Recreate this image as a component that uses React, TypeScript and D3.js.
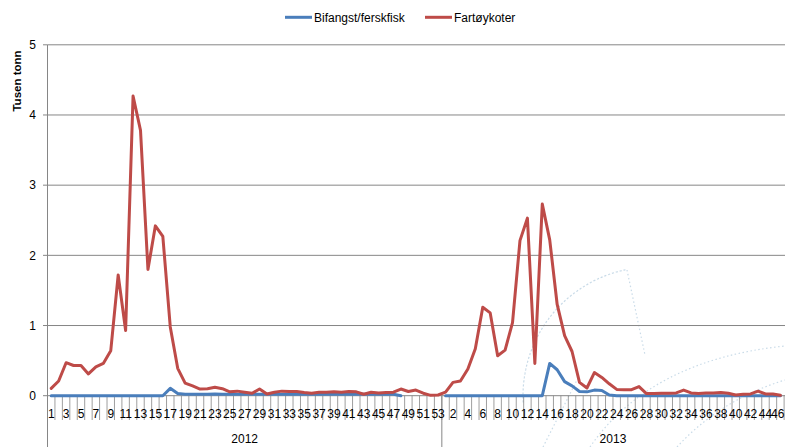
import React from 'react';
import * as d3 from 'd3';

// ---- data ----
const years = ['2012', '2013'];
const weeks2012 = d3.range(1, 54); // 53 weeks
const weeks2013 = d3.range(1, 47); // 46 weeks
const seriesNames = ['Bifangst/ferskfisk', 'Fartøykoter'];
const seriesColors = ['#4A7EBB', '#BE4B48'];
const yTicks = [0, 1, 2, 3, 4, 5];

const bifangst2012: (number | null)[] = [
  0, 0, 0, 0, 0, 0, 0, 0, 0, 0,
  0, 0, 0, 0, 0, 0, 0.105, 0.03, 0.02, 0.02,
  0.02, 0.02, 0.025, 0.02, 0.02, 0.02, 0.02, 0.02, 0.02, 0.02,
  0.02, 0.02, 0.02, 0.02, 0.02, 0.02, 0.02, 0.02, 0.02, 0.02,
  0.02, 0.02, 0.02, 0.02, 0.02, 0.02, 0.02, 0, null, null,
  null, null, null,
];
const bifangst2013: (number | null)[] = [
  0, 0, 0, 0, 0, 0, 0, 0, 0, 0,
  0, 0, 0, 0, 0.46, 0.37, 0.2, 0.14, 0.06, 0.055,
  0.08, 0.075, 0.01, 0, 0, 0, 0, 0, 0, 0,
  0, 0, 0, 0, 0, 0, 0, 0, 0, 0,
  0, 0, 0, 0, 0, 0,
];
const fartoy2012: (number | null)[] = [
  0.105, 0.21, 0.47, 0.43, 0.43, 0.31, 0.41, 0.46, 0.64, 1.72,
  0.93, 4.27, 3.78, 1.8, 2.42, 2.27, 0.98, 0.39, 0.18, 0.14,
  0.095, 0.1, 0.12, 0.1, 0.055, 0.065, 0.05, 0.035, 0.095, 0.025,
  0.05, 0.065, 0.06, 0.06, 0.045, 0.035, 0.05, 0.05, 0.055, 0.05,
  0.06, 0.055, 0.02, 0.05, 0.04, 0.045, 0.05, 0.095, 0.06, 0.08,
  0.035, 0.005, 0.01,
];
const fartoy2013: (number | null)[] = [
  0.05, 0.19, 0.21, 0.38, 0.67, 1.26, 1.18, 0.57, 0.65, 1.04,
  2.21, 2.53, 0.46, 2.73, 2.22, 1.3, 0.855, 0.63, 0.19, 0.11,
  0.33, 0.26, 0.17, 0.09, 0.085, 0.085, 0.13, 0.03, 0.03, 0.035,
  0.035, 0.04, 0.08, 0.04, 0.03, 0.04, 0.04, 0.045, 0.035, 0.01,
  0.02, 0.025, 0.065, 0.025, 0.025, 0.005,
];

// ---- layout ----
const W = 785;
const H = 447;
const plotLeft = 47.5;
const plotRight = 784.1;
const plotBottom = 395.7;
const plotTop = 44.8;
const FONT = "'Liberation Sans', Arial, sans-serif";
const GRID = '#868686';

export default function App() {
  const labels = [...weeks2012, ...weeks2013];
  const n = labels.length;
  const idx = d3.range(n);
  const x = d3.scaleBand<number>().domain(idx).range([plotLeft, plotRight]).padding(0);
  const bw = x.bandwidth();
  const cx = (i: number) => (x(i) as number) + bw / 2;
  const y = d3.scaleLinear().domain([0, 5]).range([plotBottom, plotTop]);

  const series = [
    [...bifangst2012, ...bifangst2013],
    [...fartoy2012, ...fartoy2013],
  ];
  const line = d3
    .line<number | null>()
    .defined((d) => d != null)
    .x((_, i) => cx(i))
    .y((d) => y(d as number));

  const sepX = plotLeft + bw * weeks2012.length;
  const yearCenters = [
    (plotLeft + sepX) / 2,
    (sepX + plotRight) / 2,
  ];

  // faint watermark (decorative dotted arcs)
  const wmCx = 652, wmCy = 396, wmR = 129;
  const arc1 = d3.arc()({
    innerRadius: wmR, outerRadius: wmR,
    startAngle: -Math.PI / 2 - 0.05, endAngle: -0.2,
  } as any);

  return (
    <svg
      width={W}
      height={H}
      style={{ position: 'absolute', left: 0, top: 0, background: '#fff' }}
      fontFamily={FONT}
    >
      <rect width={W} height={H} fill="#fff" />
      {/* watermark */}
      <g fill="none" stroke="#c9dbe8" strokeWidth={1.2} strokeDasharray="1.5 2.5">
        <path d={arc1 || ''} transform={`translate(${wmCx},${wmCy})`} />
        <line x1={627} y1={270} x2={645} y2={355} />
        <path d="M590,447 Q650,360 785,346" />
        <path d="M543,447 L577,380" />
        <path d="M677,447 Q720,400 785,380" />
      </g>

      {/* gridlines */}
      {yTicks.map((t) => (
        <g key={t}>
          <line x1={plotLeft} x2={W} y1={y(t)} y2={y(t)} stroke={GRID} strokeWidth={1} />
          <line x1={plotLeft - 4.5} x2={plotLeft} y1={y(t)} y2={y(t)} stroke={GRID} strokeWidth={1} />
          <text x={36} y={y(t) + 4.2} textAnchor="end" fontSize={12} fill="#000">
            {t}
          </text>
        </g>
      ))}

      {/* y axis */}
      <line x1={plotLeft} x2={plotLeft} y1={plotTop} y2={H} stroke={GRID} strokeWidth={1} />
      <text
        transform={`translate(21,81) rotate(-90)`}
        textAnchor="middle"
        fontSize={11.5}
        fontWeight="bold"
        fill="#000"
      >
        Tusen tonn
      </text>

      {/* category ticks */}
      {d3.range(n + 1).map((i) => {
        const xx = plotLeft + i * bw;
        return (
          <line key={i} x1={xx} x2={xx} y1={plotBottom} y2={420} stroke={GRID} strokeWidth={0.8} />
        );
      })}
      <line x1={sepX} x2={sepX} y1={plotBottom} y2={H} stroke={GRID} strokeWidth={1} />

      {/* week labels */}
      {idx
        .filter((i) => i % 2 === 0)
        .map((i) => (
          <text
            key={i}
            x={Math.min(cx(i), W - 7.3)}
            y={417.5}
            textAnchor="middle"
            fontSize={12}
            fill="#000"
          >
            {labels[i]}
          </text>
        ))}
      {years.map((yr, k) => (
        <text key={yr} x={yearCenters[k]} y={443} textAnchor="middle" fontSize={12} fill="#000">
          {yr}
        </text>
      ))}

      {/* series lines */}
      {series.map((s, k) => (
        <path
          key={k}
          d={line(s) || ''}
          fill="none"
          stroke={seriesColors[k]}
          strokeWidth={3}
          strokeLinejoin="round"
          strokeLinecap="round"
        />
      ))}

      {/* legend */}
      <g>
        <line x1={285} x2={312} y1={17.3} y2={17.3} stroke={seriesColors[0]} strokeWidth={3} />
        <text x={314} y={21.5} fontSize={12} fill="#000">{seriesNames[0]}</text>
        <line x1={425} x2={452} y1={17.3} y2={17.3} stroke={seriesColors[1]} strokeWidth={3} />
        <text x={454} y={21.5} fontSize={12} fill="#000">{seriesNames[1]}</text>
      </g>
    </svg>
  );
}
